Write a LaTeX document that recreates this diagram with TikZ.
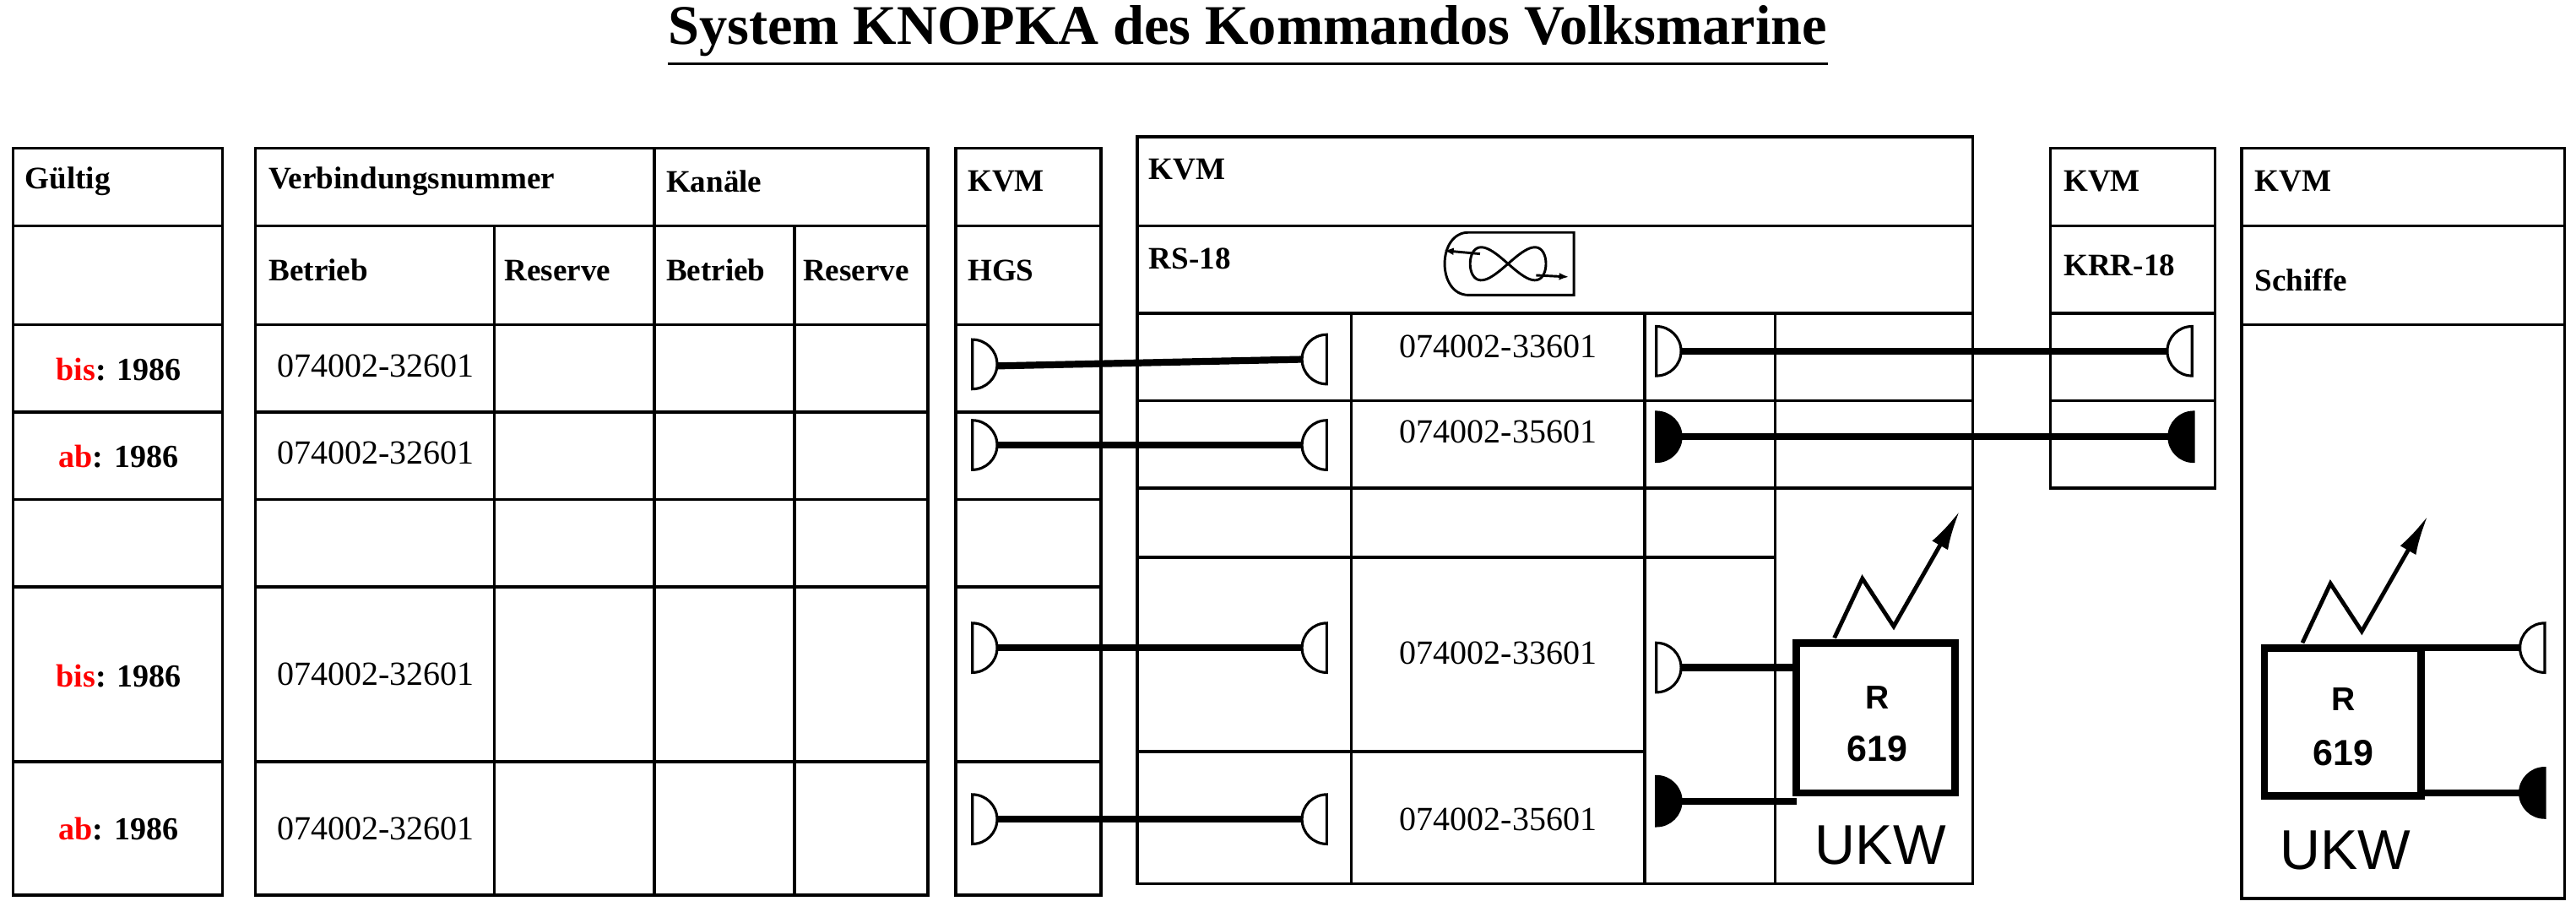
\documentclass[tikz,border=0pt]{standalone}
\usepackage{fontspec}
\setmainfont{Liberation Serif}
\newfontfamily\ssf{Liberation Sans}
\usetikzlibrary{arrows.meta}
\begin{document}
\begin{tikzpicture}[x=1pt,y=-1pt,
  grid/.style={line width=1.8pt},
  wire/.style={line width=4.2pt},
  hd/.style={anchor=west,font=\fontsize{19}{19}\selectfont\bfseries,inner sep=0pt},
  num/.style={font=\fontsize{20.5}{20}\selectfont,inner sep=0pt},
  yr/.style={font=\fontsize{19.5}{19}\selectfont\bfseries,inner sep=0pt},
  pinR/.pic={\draw[line width=1.6pt,pic actions] (0,-15) -- (0,15) arc[start angle=90,end angle=-90,x radius=15,y radius=15] -- cycle;},
  pinL/.pic={\draw[line width=1.6pt,pic actions] (0,-15) -- (0,15) arc[start angle=90,end angle=270,x radius=15,y radius=15] -- cycle;},
  rbox/.style={line width=4.5pt}]
\useasboundingbox (0,0) rectangle (1563,553);
\node[font=\fontsize{34}{34}\selectfont\bfseries,inner sep=0pt] (title) at (757,19) {System KNOPKA des Kommandos Volksmarine};
\draw[line width=2pt] (title.south west)++(0,4) coordinate (ul1) -- (title.south east |- ul1);
% Table 1
\draw[grid] (8,90) rectangle (135,543);
\foreach \y in {137,197,250,303,356,462} \draw[grid] (8,\y) -- (135,\y);
\node[hd] (g) at (15,110) {Gültig};
\node[yr] (y1) at (72,224) {\textcolor{red}{bis}: 1986};
\node[yr] (y2) at (72,277) {\textcolor{red}{ab}: 1986};
\node[yr] (y3) at (72,410) {\textcolor{red}{bis}: 1986};
\node[yr] (y4) at (72,503) {\textcolor{red}{ab}: 1986};
% Table 2
\draw[grid] (155,90) rectangle (563,543);
\foreach \y in {137,197,250,303,356,462} \draw[grid] (155,\y) -- (563,\y);
\draw[grid] (397,90) -- (397,543);
\draw[grid] (300,137) -- (300,543);
\draw[grid] (482,137) -- (482,543);
\node[hd] (vn) at (163,110) {Verbindungsnummer};
\node[hd] (ka) at (404,110) {Kanäle};
\node[hd] (b1) at (163,164) {Betrieb};
\node[hd] (r1) at (306,164) {Reserve};
\node[hd] (b2) at (404,164) {Betrieb};
\node[hd] (r2) at (487,164) {Reserve};
\node[num] (n1) at (228,222) {074002-32601};
\node[num] (n2) at (228,275) {074002-32601};
\node[num] (n3) at (228,409) {074002-32601};
\node[num] (n4) at (228,503) {074002-32601};
% Table 3
\draw[grid] (580,90) rectangle (668,543);
\foreach \y in {137,197,250,303,356,462} \draw[grid] (580,\y) -- (668,\y);
\node[hd] (k3) at (587,110) {KVM};
\node[hd] (h3) at (587,164) {HGS};
% Table 4
\draw[grid] (690,83) rectangle (1197,536);
\foreach \y in {137,190,243,296} \draw[grid] (690,\y) -- (1197,\y);
\draw[grid] (690,338) -- (1077,338);
\draw[grid] (690,456) -- (998,456);
\draw[grid] (820,190) -- (820,536);
\draw[grid] (998,190) -- (998,536);
\draw[grid] (1077,190) -- (1077,536);
\node[hd] (k4) at (697,103) {KVM};
\node[hd] (rs) at (697,157) {RS-18};
\draw[line width=1.5pt] (955,141) -- (891,141) to[out=180,in=180,looseness=1.3] (891,179) -- (955,179) -- cycle;
\draw[line width=1.5pt] plot[domain=0:360,samples=80,smooth] ({915+23*cos(\x)},{160+10*sin(2*\x)});
\draw[line width=1.5pt,-{Latex[length=6pt]}] (898,154) -- (876,152);
\draw[line width=1.5pt,-{Latex[length=6pt]}] (932,167) -- (952,168);
\node[num] (m1) at (909,210) {074002-33601};
\node[num] (m2) at (909,262) {074002-35601};
\node[num] (m3) at (909,396) {074002-33601};
\node[num] (m4) at (909,497) {074002-35601};
% Table 5
\draw[grid] (1244,90) rectangle (1344,296);
\foreach \y in {137,190,243} \draw[grid] (1244,\y) -- (1344,\y);
\node[hd] (k5) at (1252,110) {KVM};
\node[hd] (kr) at (1252,161) {KRR-18};
% Table 6
\draw[grid] (1360,90) rectangle (1556,545);
\foreach \y in {137,197} \draw[grid] (1360,\y) -- (1556,\y);
\node[hd] (k6) at (1368,110) {KVM};
\node[hd] (sc) at (1368,170) {Schiffe};
% pins and wires
\pic at (590,221) {pinR}; \pic at (805,218) {pinL};
\pic at (590,270) {pinR}; \pic at (805,270) {pinL};
\pic at (590,393) {pinR}; \pic at (805,393) {pinL};
\pic at (590,497) {pinR}; \pic at (805,497) {pinL};
\coordinate (a1) at (605,222); \coordinate (c1) at (790,218); \draw[wire] (a1) -- (c1);
\coordinate (a2) at (605,270); \coordinate (c2) at (790,270); \draw[wire] (a2) -- (c2);
\coordinate (a3) at (605,393); \coordinate (c3) at (790,393); \draw[wire] (a3) -- (c3);
\coordinate (a4) at (605,497); \coordinate (c4) at (790,497); \draw[wire] (a4) -- (c4);
\pic at (1005,213) {pinR}; \pic at (1330,213) {pinL};
\pic[fill=black] at (1005,265) {pinR}; \pic[fill=black] at (1331,265) {pinL};
\coordinate (d1) at (1020,213); \coordinate (e1) at (1315,213); \draw[wire] (d1) -- (e1);
\coordinate (d2) at (1020,265); \coordinate (e2) at (1316,265); \draw[wire] (d2) -- (e2);
% radio 1
\pic at (1005,405) {pinR}; \pic[fill=black] at (1005,486) {pinR};
\draw[rbox] (1090,390) rectangle (1186,481);
\coordinate (d3) at (1020,405); \coordinate (f3) at (1090,405); \draw[wire] (d3) -- (f3);
\coordinate (d4) at (1020,486); \coordinate (f4) at (1090,486); \draw[wire] (d4) -- (f4);
\draw[line width=2.5pt,-{Latex[length=24pt,width=11pt]}] (1113,387) -- (1130,351) -- (1149,380) -- (1189,310);
\node[font=\ssf\fontsize{20}{20}\selectfont\bfseries,inner sep=0pt] (r1t) at (1139,423) {R};
\node[font=\ssf\fontsize{22}{22}\selectfont\bfseries,inner sep=0pt] (r1n) at (1139,454) {619};
\node[font=\ssf\fontsize{34}{34}\selectfont,inner sep=0pt] (u1) at (1141,513) {UKW};
% radio 2
\draw[rbox] (1374,393) rectangle (1469,483);
\pic at (1544,393) {pinL}; \pic[fill=black] at (1544,481) {pinL};
\coordinate (g1) at (1469,393); \coordinate (h1) at (1529,393); \draw[wire] (g1) -- (h1);
\coordinate (g2) at (1469,481); \coordinate (h2) at (1529,481); \draw[wire] (g2) -- (h2);
\draw[line width=2.5pt,-{Latex[length=24pt,width=11pt]}] (1397,390) -- (1414,354) -- (1433,383) -- (1473,313);
\node[font=\ssf\fontsize{20}{20}\selectfont\bfseries,inner sep=0pt] (r2t) at (1422,424) {R};
\node[font=\ssf\fontsize{22}{22}\selectfont\bfseries,inner sep=0pt] (r2n) at (1422,457) {619};
\node[font=\ssf\fontsize{34}{34}\selectfont,inner sep=0pt] (u2) at (1423,516) {UKW};
\end{tikzpicture}
\end{document}
